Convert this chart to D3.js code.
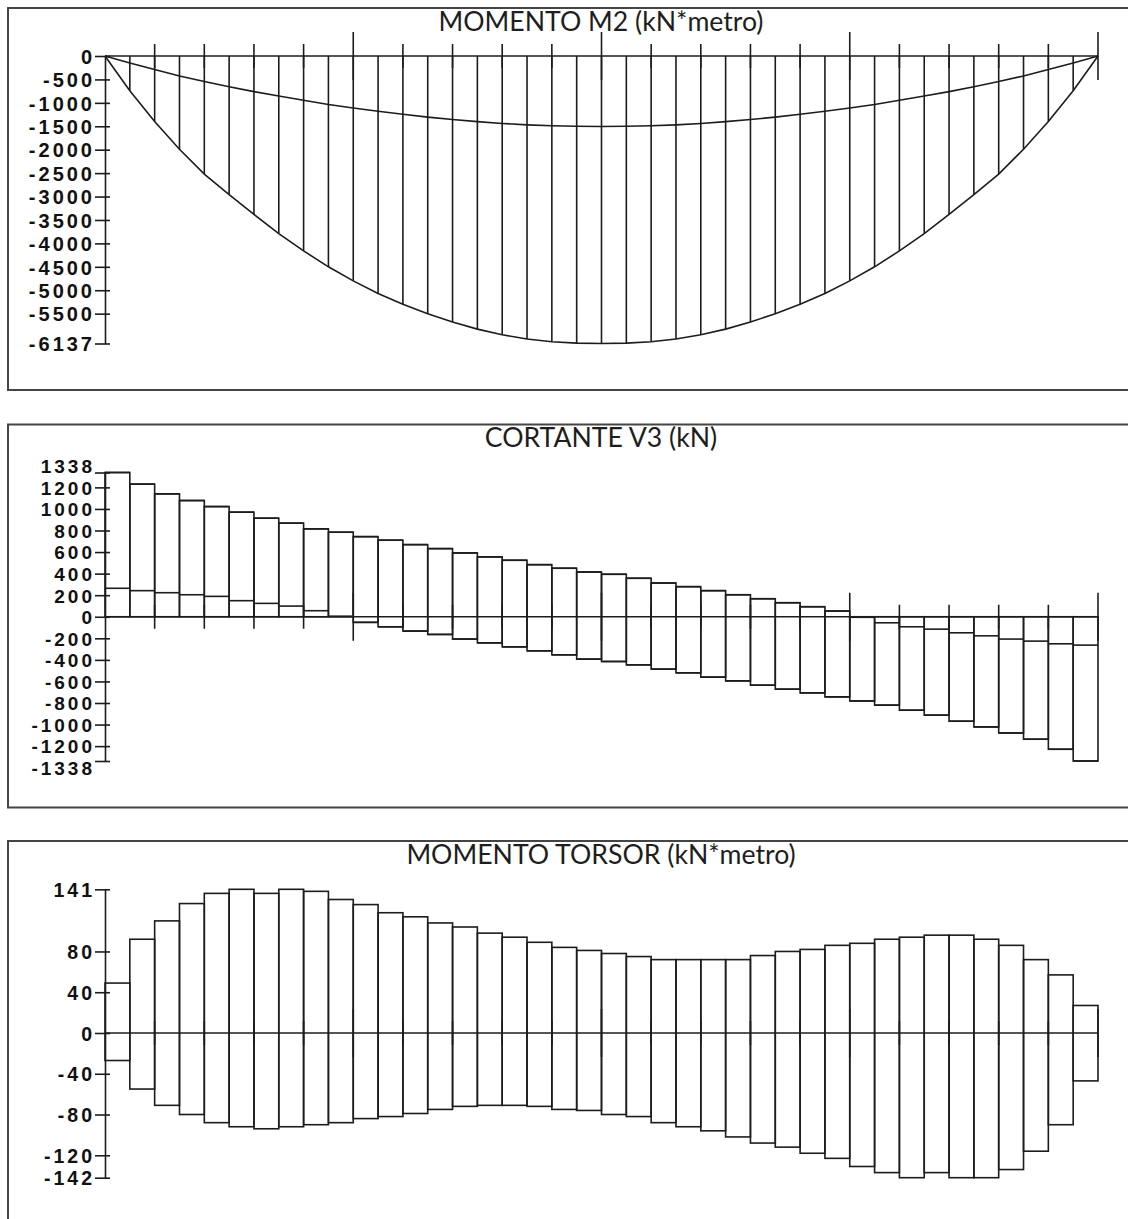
<!DOCTYPE html>
<html>
<head>
<meta charset="utf-8">
<script src="https://cdn.jsdelivr.net/npm/d3@7"></script>
<style>
  html, body { margin: 0; padding: 0; background: #fff; }
  svg { display: block; }
</style>
</head>
<body>
<svg id="chart" width="1128" height="1219"></svg>
<script>
// ---------- DATA ----------
const stations = [0,1,2,3,4,5,6,7,8,9,10,11,12,13,14,15,16,17,18,19,20,
                  21,22,23,24,25,26,27,28,29,30,31,32,33,34,35,36,37,38,39,40];

// Panel 1: MOMENTO M2 (kN*metro) – envelope values at stations
const m2Min = [0,-740,-1400,-1990,-2520,-2960,-3380,-3790,-4160,-4500,-4800,-5070,-5300,-5500,-5680,-5830,-5950,-6040,-6100,-6130,-6137,
               -6130,-6100,-6040,-5950,-5830,-5680,-5500,-5300,-5070,-4800,-4500,-4160,-3790,-3380,-2960,-2520,-1990,-1400,-740,0];
const m2Max = [0,-150,-290,-425,-545,-655,-760,-855,-945,-1035,-1110,-1180,-1245,-1305,-1355,-1400,-1440,-1470,-1490,-1500,-1505,
               -1500,-1490,-1470,-1440,-1400,-1355,-1305,-1245,-1180,-1110,-1035,-945,-855,-760,-655,-545,-425,-290,-150,0];
const m2Ticks = [0,-500,-1000,-1500,-2000,-2500,-3000,-3500,-4000,-4500,-5000,-5500,-6137];

// Panel 2: CORTANTE V3 (kN) – per segment (40 segments)
const v3Max = [1338,1230,1140,1078,1022,970,914,868,815,784,743,710,669,632,592,555,524,483,450,415,
               394,357,313,279,242,204,167,130,93,53,-5,-56,-93,-115,-149,-177,-207,-226,-251,-263];
const v3Min = [264,242,223,204,189,149,124,99,56,5,-52,-93,-133,-164,-207,-242,-279,-316,-353,-393,
               -415,-446,-486,-520,-560,-595,-635,-672,-706,-743,-781,-820,-867,-913,-969,-1022,-1078,-1136,-1229,-1338];
const v3Ticks = [1338,1200,1000,800,600,400,200,0,-200,-400,-600,-800,-1000,-1200,-1338];

// Panel 3: MOMENTO TORSOR (kN*metro) – per segment (40 segments)
const tMax = [49,92,110,127,137,141,137,141,139,131,126,118,114,108,104,98,94,89,84,81,
              78,75,72,72,72,72,76,80,82,86,88,92,94,96,96,92,86,72,57,27];
const tMin = [-27,-55,-71,-80,-88,-92,-94,-92,-90,-88,-84,-82,-79,-75,-72,-71,-71,-72,-75,-76,
              -80,-82,-88,-92,-96,-102,-108,-112,-118,-123,-131,-137,-142,-137,-142,-142,-134,-116,-90,-47];
const tTicks = [141,80,40,0,-40,-80,-120,-142];

const titles = ["MOMENTO M2 (kN*metro)", "CORTANTE V3 (kN)", "MOMENTO TORSOR (kN*metro)"];

// ---------- LAYOUT ----------
const svg = d3.select("#chart");
svg.append("rect").attr("width",1128).attr("height",1219).attr("fill","#fff");

const INK = "#1c1c1c";
const LW = 1.6;
const x = d3.scaleLinear().domain([0, 40]).range([105, 1098]);
const segs = stations.slice(0, 40);

const panels = [
  {top: 8,     bottom: 390,   domain: [0, -6137],  range: [56, 343.5],   ticks: m2Ticks, fs: 20},
  {top: 424.5, bottom: 807.5, domain: [1338,-1338], range: [472.5, 761], ticks: v3Ticks, fs: 19},
  {top: 841,   bottom: 1260,  domain: [141, -142],  range: [889.3, 1177.7], ticks: tTicks, fs: 19.5}
];
// small label nudges where the reference labels crowd each other
const labelNudge = {"1338": -6.5, "-1338": 6.5};

// title font sizing
const tmp = svg.append("text").attr("font-family","Lato, 'Open Sans', sans-serif")
  .attr("font-size",20).text(titles[0]);
const w20 = tmp.node().getComputedTextLength();
tmp.remove();
const titleSize = 20 * 325 / w20;

panels.forEach((p, i) => {
  const g = svg.append("g");
  g.append("rect").attr("x",8).attr("y",p.top).attr("width",1140).attr("height",p.bottom - p.top)
    .attr("fill","none").attr("stroke","#444").attr("stroke-width",2);
  g.append("text").attr("x",601).attr("y",p.top + 22.5).attr("text-anchor","middle")
    .attr("font-family","Lato, 'Open Sans', sans-serif").attr("font-size",titleSize)
    .attr("fill","#1e1e1e").text(titles[i]);
  p.y = d3.scaleLinear().domain(p.domain).range(p.range);
  p.g = g;
});

// ---------- Panel 1 ----------
(function(){
  const p = panels[0], y = p.y, g = p.g;
  const y0 = y(0);
  g.append("g").selectAll("line").data(stations.filter(s => s > 0 && s < 40)).join("line")
    .attr("x1", s => x(s)).attr("x2", s => x(s))
    .attr("y1", y0).attr("y2", s => y(m2Min[s]))
    .attr("stroke", INK).attr("stroke-width", LW);
  g.append("path").attr("d", d3.line().x(s => x(s)).y(s => y(m2Min[s]))(stations))
    .attr("fill","none").attr("stroke",INK).attr("stroke-width",LW);
  g.append("path").attr("d", d3.line().x(s => x(s)).y(s => y(m2Max[s]))(stations))
    .attr("fill","none").attr("stroke",INK).attr("stroke-width",LW);
})();

// ---------- Panel 2 ----------
(function(){
  const p = panels[1], y = p.y, g = p.g;
  g.append("g").selectAll("rect").data(segs).join("rect")
    .attr("x", j => x(j)).attr("width", j => x(j+1) - x(j))
    .attr("y", j => y(Math.max(0, v3Max[j])))
    .attr("height", j => y(Math.min(0, v3Min[j])) - y(Math.max(0, v3Max[j])))
    .attr("fill","none").attr("stroke",INK).attr("stroke-width",LW);
  [v3Max, v3Min].forEach(arr => {
    g.append("g").selectAll("line").data(segs).join("line")
      .attr("x1", j => x(j)).attr("x2", j => x(j+1))
      .attr("y1", j => y(arr[j])).attr("y2", j => y(arr[j]))
      .attr("stroke",INK).attr("stroke-width",LW);
  });
})();

// ---------- Panel 3 ----------
(function(){
  const p = panels[2], y = p.y, g = p.g;
  g.append("g").selectAll("rect").data(segs).join("rect")
    .attr("x", j => x(j)).attr("width", j => x(j+1) - x(j))
    .attr("y", j => y(tMax[j]))
    .attr("height", j => y(tMin[j]) - y(tMax[j]))
    .attr("fill","none").attr("stroke",INK).attr("stroke-width",LW);
})();

// ---------- common: baseline, station markers, axes ----------
panels.forEach((p, i) => {
  const y = p.y, g = p.g, y0 = y(0);
  g.append("line").attr("x1", x(0)).attr("x2", x(40)).attr("y1", y0).attr("y2", y0)
    .attr("stroke",INK).attr("stroke-width",LW);
  g.append("g").selectAll("line").data(stations.filter(s => s > 0 && s % 2 === 0)).join("line")
    .attr("x1", s => x(s)).attr("x2", s => x(s))
    .attr("y1", s => y0 - (s % 10 === 0 ? 24 : 12))
    .attr("y2", s => y0 + (s % 10 === 0 ? 24 : 12))
    .attr("stroke",INK).attr("stroke-width",LW);

  const ax = g.append("g").attr("transform", `translate(${x(0)},0)`)
    .call(d3.axisLeft(y).tickValues(p.ticks).tickFormat(d => String(d))
      .tickSizeInner(10).tickSizeOuter(0).tickPadding(0));
  ax.select(".domain").attr("stroke",INK).attr("stroke-width",LW);
  ax.selectAll(".tick line").attr("x1",5).attr("stroke",INK).attr("stroke-width",LW);
  ax.selectAll(".tick text")
    .attr("font-family","'Liberation Sans', Arial, sans-serif")
    .attr("font-weight","bold").attr("font-size",p.fs)
    .attr("letter-spacing","3px")
    .attr("y", d => (i === 1 && labelNudge[String(d)]) ? labelNudge[String(d)] : 0)
    .attr("dy","0.36em").attr("fill","#111");
});
</script>
</body>
</html>
